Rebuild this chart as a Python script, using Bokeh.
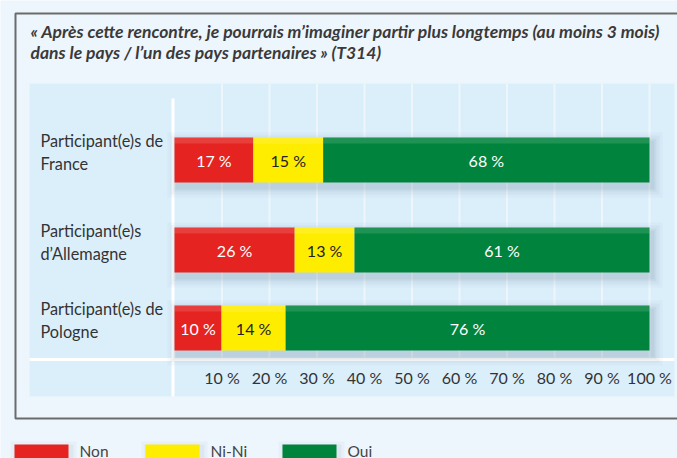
from bokeh.plotting import figure
from bokeh.models import Range1d
from bokeh.core.properties import value
from bokeh.embed import file_html
from bokeh.resources import INLINE

# ---------------- data ----------------
categories = ["Participant(e)s de\nFrance", "Participant(e)s\nd’Allemagne", "Participant(e)s de\nPologne"]
series = ["Non", "Ni-Ni", "Oui"]
# bar lengths (percent of respondents)
non = [16.6, 25.3, 9.9]
nini = [14.7, 12.6, 13.5]
oui = [68.7, 62.1, 76.6]
# value labels printed on the bars
non_labels = ["17 %", "26 %", "10 %"]
nini_labels = ["15 %", "13 %", "14 %"]
oui_labels = ["68 %", "61 %", "76 %"]
ticks = [10, 20, 30, 40, 50, 60, 70, 80, 90, 100]
tick_labels = ["10 %", "20 %", "30 %", "40 %", "50 %", "60 %", "70 %", "80 %", "90 %", "100 %"]
title_lines = ["« Après cette rencontre, je pourrais m’imaginer partir plus longtemps (au moins 3 mois)",
               "dans le pays / l’un des pays partenaires » (T314)"]

# ---------------- layout / style ----------------
W, H = 677, 458
X0, PXP = 174.0, 4.75          # pixel of 0 %, pixels per %
def px(p):
    return (p - X0) / PXP

FONT = "Lato"
colors = ["#e52421", "#ffed00", "#00843d"]
text_colors = ["#ffffff", "#222222", "#ffffff"]
bar_y = [159.5, 249.5, 327.5]
bar_h = 45

p = figure(width=W, height=H, output_backend="svg", toolbar_location=None,
           x_range=Range1d(px(0), px(W)), y_range=Range1d(H, 0),
           min_border=0, x_axis_location=None, y_axis_location=None,
           background_fill_color="#eef6fd", border_fill_color="#eef6fd",
           outline_line_color=None)
p.grid.visible = False

# frame
p.quad(left=px(15), right=px(W + 20), top=13, bottom=418, fill_color=None,
       line_color="#6b6b6b", line_width=2)

# title
p.text(x=[px(30)] * 2, y=[31, 52], text=title_lines, text_font=value(FONT),
       text_font_style="bold italic", text_font_size="17.5px", text_color="#3a3a3a",
       text_baseline="middle", text_align="left")

# plot area
p.quad(left=px(29), right=px(674), top=83, bottom=396, fill_color="#dbeffb", line_color=None)

# gridlines
p.segment(x0=ticks, y0=[83] * len(ticks), x1=ticks, y1=[357] * len(ticks),
          line_color="#eef6fb", line_width=2)

# separators
p.segment(x0=[px(172.5)], y0=[98], x1=[px(172.5)], y1=[396], line_color="#ffffff", line_width=3)
p.segment(x0=[px(29)], y0=[359], x1=[px(674)], y1=[359], line_color="#ffffff", line_width=3)

# shadows
totals = [a + b + c for a, b, c in zip(non, nini, oui)]
for k, a in [(10, 0.03), (7, 0.04), (4, 0.05), (2, 0.06)]:
    p.quad(left=[px(X0 - k + 3)] * 3, right=[t + (k + 3) / PXP for t in totals],
           top=[y - bar_h / 2 - k + 5 for y in bar_y],
           bottom=[y + bar_h / 2 + k + 5 for y in bar_y],
           fill_color="#2a4a66", fill_alpha=a, line_color=None)

# stacked bars
stack = [non, nini, oui]
stack_labels = [non_labels, nini_labels, oui_labels]
left = [0] * 3
for s, vals in enumerate(stack):
    right = [l + v for l, v in zip(left, vals)]
    p.hbar(y=bar_y, left=left, right=right, height=bar_h, fill_color=colors[s], line_color=None)
    # top highlight
    p.hbar(y=[y - bar_h / 2 + 3 for y in bar_y], left=left, right=right, height=6,
           fill_color="#ffffff", fill_alpha=0.12, line_color=None)
    p.text(x=[(l + r) / 2 for l, r in zip(left, right)], y=bar_y,
           text=stack_labels[s], text_font=value(FONT), text_font_size="16px",
           text_color=text_colors[s], text_align="center", text_baseline="middle")
    left = right

# category labels
p.text(x=[px(40)] * 3, y=[y - 8 for y in bar_y], text=categories, text_font=value(FONT),
       text_font_size="16.3px", text_color="#333333", text_align="left",
       text_baseline="middle", text_line_height=1.25)

# tick labels
p.text(x=ticks, y=[377] * len(ticks), text=tick_labels, text_font=value(FONT),
       text_font_size="16px", text_color="#333333", text_align="center", text_baseline="middle")

# legend
leg_x = [14, 145, 282]
for k, a in [(6, 0.03), (3, 0.05)]:
    p.quad(left=[px(x - k + 2) for x in leg_x], right=[px(x + 54 + k + 2) for x in leg_x],
           top=[444 - k + 3] * 3, bottom=[470] * 3, fill_color="#2a4a66", fill_alpha=a,
           line_color=None)
p.quad(left=[px(x) for x in leg_x], right=[px(x + 54) for x in leg_x],
       top=[444] * 3, bottom=[470] * 3, fill_color=colors, line_color=None)
p.text(x=[px(x + 65) for x in leg_x], y=[441] * 3, text=series, text_font=value(FONT),
       text_font_size="15.5px", text_color="#444444", text_align="left", text_baseline="top")

open("out.html", "w").write(file_html(p, INLINE))
